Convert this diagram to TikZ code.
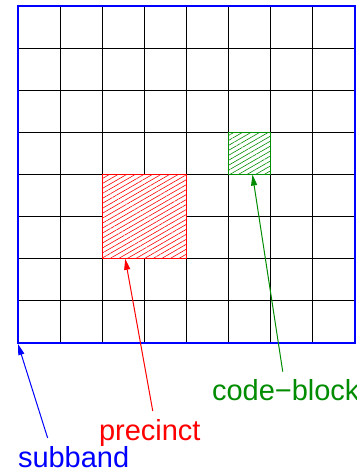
\documentclass[tikz,border=0pt]{standalone}
\usepackage{fontspec}
\setmainfont{Liberation Sans}
\usepackage{tikz}
\usetikzlibrary{arrows.meta,patterns.meta}
\definecolor{bandBlue}{RGB}{0,0,255}
\definecolor{precRed}{RGB}{255,0,0}
\definecolor{blockGreen}{RGB}{0,140,0}

\begin{document}
\begin{tikzpicture}[
    x=1pt, y=-1pt,
    >={Triangle[length=11pt,width=6pt]},
    every node/.style={font=\fontsize{29}{32}\selectfont},
    cellline/.style={draw=black, line width=1pt},
    areabox/.style={minimum width=#1, minimum height=#1, inner sep=0pt, outer sep=0pt, anchor=north west},
    hatched/.style={draw=#1, line width=1pt, preaction={fill=white}, pattern={Lines[angle=30,distance=4.3pt,line width=0.6pt]}, pattern color=#1},
    tag/.style={inner sep=0pt, outer sep=8pt, anchor=base west},
    pointer/.style={->, line width=1pt}
]
    \useasboundingbox (0,0) rectangle (356,471);

    % cell grid of the subband
    \foreach \i in {1,...,7} {
        \draw[cellline] (18+\i*42.125, 6) -- (18+\i*42.125, 343);
        \draw[cellline] (18, 6+\i*42.125) -- (355, 6+\i*42.125);
    }
    \node[areabox=337pt, draw=bandBlue, line width=1.6pt] (band) at (18,6) {};

    % precinct and code-block
    \node[areabox=84.25pt, hatched=precRed] (precinct) at (102.25,174.5) {};
    \node[areabox=42.125pt, hatched=blockGreen] (block) at (228.4,132.4) {};

    % labels
    \node[tag, text=bandBlue] (bandlabel) at (10,467) {subband};
    \node[tag, text=precRed] (preclabel) at (91,440) {precinct};
    \node[tag, text=blockGreen] (blocklabel) at (204,400.7) {code−block};

    \draw[pointer, bandBlue] ([xshift=-26pt]bandlabel.north) -- ([yshift=-1pt]band.south west);
    \draw[pointer, precRed] ([xshift=3pt]preclabel.north) -- ([xshift=23pt]precinct.south west);
    \draw[pointer, blockGreen] ([xshift=-3pt]blocklabel.north) -- ([xshift=3pt]block.south);
\end{tikzpicture}
\end{document}
